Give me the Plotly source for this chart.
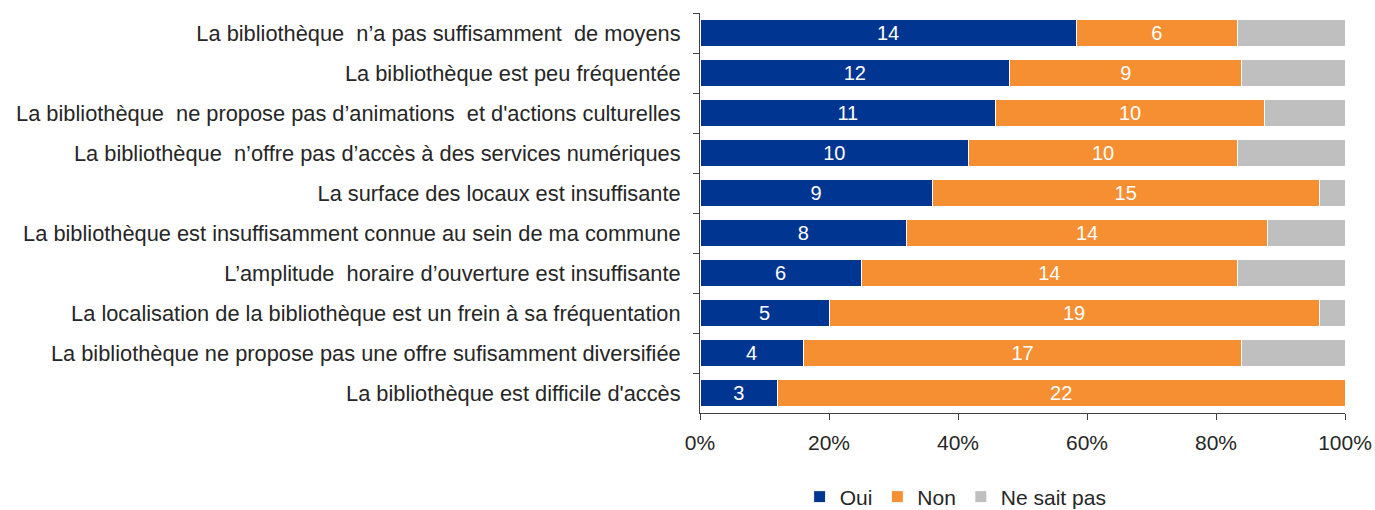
import plotly.graph_objects as go

categories = [
    "La bibliothèque  n’a pas suffisamment  de moyens",
    "La bibliothèque est peu fréquentée",
    "La bibliothèque  ne propose pas d’animations  et d'actions culturelles",
    "La bibliothèque  n’offre pas d’accès à des services numériques",
    "La surface des locaux est insuffisante",
    "La bibliothèque est insuffisamment connue au sein de ma commune",
    "L’amplitude  horaire d’ouverture est insuffisante",
    "La localisation de la bibliothèque est un frein à sa fréquentation",
    "La bibliothèque ne propose pas une offre sufisamment diversifiée",
    "La bibliothèque est difficile d'accès",
]
oui = [14, 12, 11, 10, 9, 8, 6, 5, 4, 3]
non = [6, 9, 10, 10, 15, 14, 14, 19, 17, 22]
ne_sait_pas = [4, 4, 3, 4, 1, 3, 4, 1, 4, 0]
x_ticks = [0, 20, 40, 60, 80, 100]

font = "Liberation Sans, Arial, sans-serif"
text_color = "#262626"
series = [
    ("Oui", oui, "#003591", True),
    ("Non", non, "#F68E32", True),
    ("Ne sait pas", ne_sait_pas, "#BFBFBF", False),
]

fig = go.Figure()
for name, vals, color, show_text in series:
    fig.add_trace(go.Bar(
        y=categories, x=vals, name=name, orientation="h",
        marker=dict(color=color, line=dict(color="white", width=1)),
        text=[str(v) for v in vals] if show_text else None,
        textposition="inside", insidetextanchor="middle", textangle=0,
        constraintext="none",
        textfont=dict(color="white", size=20, family=font),
    ))

fig.update_layout(
    barmode="stack", barnorm="percent", bargap=0.32,
    width=1375, height=510,
    margin=dict(l=700, r=30, t=13, b=97),
    plot_bgcolor="white", paper_bgcolor="white",
    font=dict(family=font, size=20, color=text_color),
    showlegend=True,
    legend=dict(orientation="h", xref="container", yref="container",
                x=0.695, xanchor="center", y=0.0255, yanchor="middle",
                font=dict(size=21, color=text_color), itemwidth=30,
                traceorder="normal"),
)
fig.update_yaxes(
    autorange="reversed", showline=True, linecolor="#404040", linewidth=1,
    ticks="outside", ticklen=6, tickcolor="#404040", tickson="boundaries",
    ticklabelstandoff=14, tickfont=dict(size=21.8, color=text_color),
    automargin=False,
)
fig.update_xaxes(
    range=[0, 100], tickvals=x_ticks, ticktext=[f"{t}%" for t in x_ticks],
    showline=True, linecolor="#404040", linewidth=1, showgrid=False,
    ticks="outside", ticklen=6, tickcolor="#404040", ticklabelstandoff=5,
    tickfont=dict(size=21, color=text_color), zeroline=False,
    automargin=False,
)

# drop the default body margin so the page fits the window exactly
fig.write_html("out.html", config={"displayModeBar": False},
               post_script="document.body.style.margin='0px';")
